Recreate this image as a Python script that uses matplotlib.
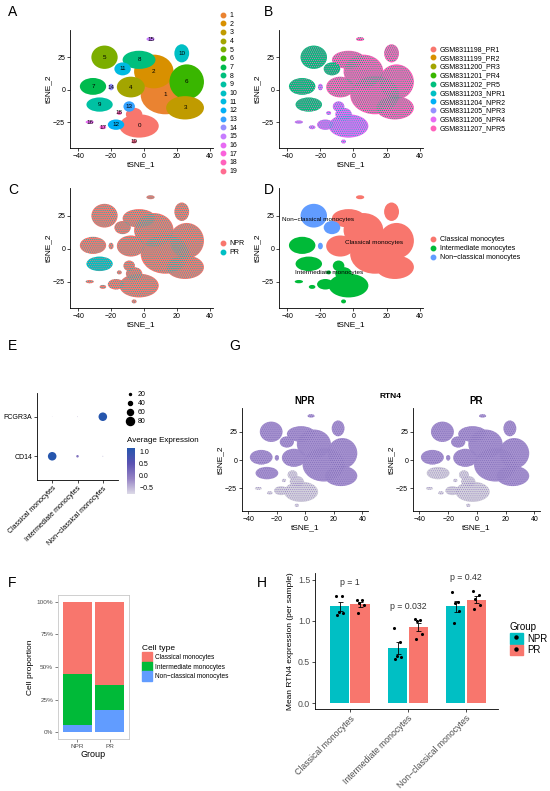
import numpy as np
import matplotlib.pyplot as plt
from matplotlib.patches import Ellipse, Patch
from matplotlib.lines import Line2D
from matplotlib.colors import LinearSegmentedColormap

plt.rcParams['font.family'] = ['Liberation Sans', 'DejaVu Sans']
plt.rcParams['hatch.linewidth'] = 0.45
plt.rcParams['axes.linewidth'] = 0.6

# ---------------- data ----------------
hue20 = ['#F8766D', '#EA8331', '#D89000', '#C09B00', '#A3A500', '#7CAE00', '#39B600', '#00BB4E', '#00BF7D', '#00C1A3',
         '#00BFC4', '#00BAE0', '#00B0F6', '#35A2FF', '#9590FF', '#C77CFF', '#E76BF3', '#FA62DB', '#FF62BC', '#FF6C91']

# cluster blobs on the tSNE map (one or two ellipses per cluster)
blob_cluster = [1, 2, 6, 3, 8, 4, 10, 15, 5, 11, 14, 7, 9, 0, 0, 13, 18, 12, 17, 16, 19]
blob_x = [13, 6, 26, 25, -3, -8, 23, 4, -24, -13, -20, -31, -27, -3, -6, -9, -15, -17, -25, -33, -6]
blob_y = [-4, 14, 6, -14, 23, 2, 28, 39, 25, 16, 2, 2.5, -11.5, -28, -19, -13, -18, -27, -29, -25, -40]
blob_w = [30, 24, 21, 23, 20, 17, 9, 5, 16, 10, 3, 16, 16, 24, 10, 7, 3, 10, 4, 5, 3]
blob_h = [30, 26, 27, 18, 14, 16, 14, 3, 18, 10, 5, 13, 11, 18, 10, 8, 3, 8, 3, 2.5, 3]

celltypes = ['Classical monocytes', 'Intermediate monocytes', 'Non-classical monocytes']
celltype_colors = ['#F8766D', '#00BA38', '#619CFF']
cluster_type = [1, 0, 0, 0, 0, 2, 0, 1, 0, 1, 0, 2, 1, 1, 2, 0, 1, 1, 1, 1]

samples = ['GSM8311198_PR1', 'GSM8311199_PR2', 'GSM8311200_PR3', 'GSM8311201_PR4', 'GSM8311202_PR5',
           'GSM8311203_NPR1', 'GSM8311204_NPR2', 'GSM8311205_NPR3', 'GSM8311206_NPR4', 'GSM8311207_NPR5']
sample_colors = ['#F8766D', '#D89000', '#A3A500', '#39B600', '#00BF7D',
                 '#00BFC4', '#00B0F6', '#9590FF', '#E76BF3', '#FF62BC']
cluster_sample_main = [8, 9, 9, 9, 9, 4, 9, 4, 9, 4, 9, 4, 8, 8, 8, 9, 8, 8, 8, 8]
cluster_sample_spot = [5, 4, 4, 4, 4, 9, 4, 9, 4, 9, 4, 9, 5, 5, 5, 4, 5, 5, 5, 5]

groups = ['NPR', 'PR']
group_colors = ['#F8766D', '#00BFC4']
cluster_group_main = [0, 0, 0, 0, 0, 0, 0, 0, 0, 1, 0, 0, 0, 0, 0, 0, 0, 0, 0, 0]
cluster_group_spot = [1, 1, 1, 1, 1, 1, 1, 1, 1, 0, 1, 1, 1, 1, 1, 1, 1, 1, 1, 1]

# RTN4 level per cluster (1 = expressed, 0 = low)
rtn4_npr = [0, 1, 1, 1, 1, 1, 1, 1, 1, 1, 1, 1, 0, 0, 1, 1, 0, 0, 0, 0]
rtn4_pr = [0, 1, 1, 1, 1, 1, 1, 1, 1, 0, 1, 1, 0, 0, 1, 1, 0, 0, 0, 0]

genes = ['CD14', 'FCGR3A']
pct_exp = [[85, 25, 10], [5, 8, 85]]
avg_exp = [[1.15, 0.1, -0.6], [-0.6, -0.55, 1.15]]

prop_npr = [0.55, 0.395, 0.055]
prop_pr = [0.635, 0.19, 0.175]

h_npr = [[1.31, 1.30, 1.11, 1.10, 1.07],
         [0.92, 0.74, 0.57, 0.56, 0.54],
         [1.35, 1.23, 1.22, 1.12, 0.97]]
h_pr = [[1.25, 1.25, 1.22, 1.19, 1.10],
        [1.02, 1.01, 1.00, 0.84, 0.78],
        [1.37, 1.32, 1.27, 1.19, 1.15]]
p_labels = ['p = 1', 'p = 0.032', 'p = 0.42']

# ---------------- figure ----------------
W, H = 550, 791
fig = plt.figure(figsize=(5.5, 7.91), dpi=100)


def box(l, t, r, b):
    return fig.add_axes([l / W, 1 - b / H, (r - l) / W, (b - t) / H])


def classic(ax, fs=5, col='black'):
    for s in ['top', 'right']:
        ax.spines[s].set_visible(False)
    ax.tick_params(length=2, width=0.5, pad=1.5, labelsize=fs, color='black', labelcolor=col)


def tsne(ax, main, spot=None, hatch='........'):
    for k, c in enumerate(blob_cluster):
        ax.add_patch(Ellipse((blob_x[k], blob_y[k]), blob_w[k], blob_h[k], facecolor=main[c],
                             edgecolor='none', lw=0))
    if spot is not None:
        for k, c in enumerate(blob_cluster):
            ax.add_patch(Ellipse((blob_x[k], blob_y[k]), blob_w[k] * 0.97, blob_h[k] * 0.97, facecolor='none',
                                 edgecolor=spot[c], lw=0, hatch=hatch))
    ax.set_xlim(-45, 42)
    ax.set_ylim(-45, 46)
    ax.set_xticks([-40, -20, 0, 20, 40])
    ax.set_yticks([-25, 0, 25])
    ax.set_xlabel('tSNE_1', fontsize=6, labelpad=1)
    ax.set_ylabel('tSNE_2', fontsize=6, labelpad=1)
    classic(ax)


def letter(x, y, s):
    fig.text(x / W, 1 - y / H, s, fontsize=10, ha='left', va='center')


def dot_legend(ax, labels, colors, x, y, spacing=0.15, ms=3.2):
    hs = [Line2D([], [], marker='o', ls='', color=c, ms=ms) for c in colors]
    ax.legend(hs, labels, loc='upper left', bbox_to_anchor=(x / W, 1 - y / H), bbox_transform=fig.transFigure,
              frameon=False, fontsize=5, handlelength=0.8, handletextpad=0.6, labelspacing=spacing,
              borderpad=0, borderaxespad=0)


# A: clusters
ax_a = box(70, 30, 213, 148)
tsne(ax_a, hue20)
for c in range(20):
    k = blob_cluster.index(c)
    ax_a.text(blob_x[k], blob_y[k], str(c), fontsize=4.5, ha='center', va='center')
dot_legend(ax_a, [str(i) for i in range(1, 20)], hue20[1:], 220, 12, spacing=0.24)
letter(8, 12, 'A')

# B: samples
ax_b = box(279, 30, 423, 148)
tsne(ax_b, [sample_colors[i] for i in cluster_sample_main], [sample_colors[i] for i in cluster_sample_spot])
dot_legend(ax_b, samples, sample_colors, 430, 46, spacing=0.26)
letter(264, 12, 'B')

# C: group
ax_c = box(70, 188, 213, 308)
tsne(ax_c, [group_colors[i] for i in cluster_group_main], [group_colors[i] for i in cluster_group_spot])
dot_legend(ax_c, groups, group_colors, 220, 240, spacing=0.32)
letter(8, 190, 'C')

# D: cell types
ax_d = box(279, 188, 423, 308)
tsne(ax_d, [celltype_colors[t] for t in cluster_type])
areas = np.array(blob_w) * np.array(blob_h)
btype = np.array([cluster_type[c] for c in blob_cluster])
for t, name in enumerate(celltypes):
    m = btype == t
    cx = np.sum(np.array(blob_x)[m] * areas[m]) / areas[m].sum()
    cy = np.sum(np.array(blob_y)[m] * areas[m]) / areas[m].sum()
    ax_d.text(cx, cy, name.replace('-', '\u2212'), fontsize=4.6, ha='center', va='center')
dot_legend(ax_d, [n.replace('-', '\u2212') for n in celltypes], celltype_colors, 430, 236, spacing=0.32)
letter(264, 190, 'D')

# E: dot plot
ax_e = box(37, 393, 118, 480)
cmap_e = LinearSegmentedColormap.from_list('e', ['#dddae7', '#9583c4', '#5a52b2', '#2656ad'])
for gi in range(len(genes)):
    ax_e.scatter(np.arange(1, 4), [gi + 1] * 3, s=(np.array(pct_exp[gi]) / 80 * 5.8) ** 2,
                 c=avg_exp[gi], cmap=cmap_e, vmin=-0.75, vmax=1.15, lw=0, zorder=3)
ax_e.set_xlim(0.4, 3.6)
ax_e.set_ylim(0.4, 2.6)
ax_e.set_yticks([1, 2], genes)
ax_e.set_xticks([1, 2, 3], [n.replace('-', '\u2212') for n in celltypes], rotation=45, ha='right',
                rotation_mode='anchor')
classic(ax_e, fs=5)
size_h = [Line2D([], [], marker='o', ls='', color='black', ms=v / 80 * 5.8) for v in [20, 40, 60, 80]]
ax_e.legend(size_h, ['20', '40', '60', '80'], loc='upper left', bbox_to_anchor=(127 / W, 1 - 391 / H),
            bbox_transform=fig.transFigure, frameon=False, fontsize=5, handlelength=1,
            handletextpad=0.5, labelspacing=0.3, borderpad=0, borderaxespad=0)
fig.text(127 / W, 1 - 441 / H, 'Average Expression', fontsize=5.8, va='center')
cax = box(127, 448, 135, 494)
sm = plt.cm.ScalarMappable(cmap=cmap_e, norm=plt.Normalize(-0.75, 1.15))
cb = fig.colorbar(sm, cax=cax, ticks=[1.0, 0.5, 0.0, -0.5])
cb.outline.set_visible(False)
cb.ax.set_yticklabels(['1.0', '0.5', '0.0', '\u22120.5'])
cb.ax.tick_params(labelsize=5, length=1.5, width=0.4, pad=1.5, color='white')
letter(8, 346, 'E')

# G: RTN4 feature plots
purple = ['#d4d2dc', '#a692cf']
spot_p = ['#9a87c6', '#8571bd']
for l, r, lev, ttl in [(242, 368, rtn4_npr, 'NPR'), (413, 540, rtn4_pr, 'PR')]:
    ax = box(l, 408, r, 511)
    tsne(ax, [purple[v] for v in lev], [spot_p[v] for v in lev])
    ax.set_xlim(-44.5, 44)
    ax.set_title(ttl, fontsize=7, fontweight='bold', pad=3)
fig.text(390 / W, 1 - 397 / H, 'RTN4', fontsize=6, fontweight='bold', ha='center', va='center')
letter(229, 346, 'G')

# F: proportions
ax_f = box(58, 595, 129, 739)
stack = np.array([prop_npr, prop_pr])
bottom = np.zeros(2)
for t in [2, 1, 0]:
    ax_f.bar([1, 2], stack[:, t], bottom=bottom, width=0.9, color=celltype_colors[t], lw=0)
    bottom += stack[:, t]
ax_f.set_xlim(0.4, 2.6)
ax_f.set_ylim(-0.05, 1.05)
ax_f.set_xticks([1, 2], groups)
ax_f.set_yticks([0, 0.25, 0.5, 0.75, 1.0], ['0%', '25%', '50%', '75%', '100%'])
ax_f.tick_params(length=2, width=0.5, pad=1.5, labelsize=4.6, labelcolor='#4d4d4d', color='#4d4d4d')
for s in ax_f.spines.values():
    s.set_color('#c8c8c8')
ax_f.set_xlabel('Group', fontsize=6.5, labelpad=1)
ax_f.set_ylabel('Cell proportion', fontsize=6, labelpad=2)
ax_f.legend([Patch(color=c) for c in celltype_colors], [n.replace('-', '\u2212') for n in celltypes],
            title='Cell type', title_fontsize=6, loc='upper left', bbox_to_anchor=(142 / W, 1 - 645 / H),
            bbox_transform=fig.transFigure, frameon=False, fontsize=4.7, handlelength=1.5, handleheight=1.9,
            handletextpad=0.5, labelspacing=0.0, borderpad=0, borderaxespad=0, alignment='left')
letter(8, 583, 'F')

# H: per-sample mean RTN4
ax_h = box(315, 573, 498, 709)
xc = np.arange(1, 4)
jit = np.array([-0.06, 0.04, -0.02, 0.06, -0.04])
for gi, (vals, col, off) in enumerate([(h_npr, '#00BFC4', -0.175), (h_pr, '#F8766D', 0.175)]):
    v = np.array(vals)
    mean = v.mean(axis=1)
    se = v.std(axis=1, ddof=1) / np.sqrt(v.shape[1])
    ax_h.bar(xc + off, mean, width=0.33, color=col, lw=0)
    ax_h.errorbar(xc + off, mean, yerr=se, fmt='none', ecolor='black', elinewidth=0.6, capsize=1.8, capthick=0.6)
    for i in range(3):
        ax_h.scatter(xc[i] + off + jit, v[i], s=5, color='black', lw=0, zorder=4)
allv = np.maximum(np.array(h_npr).max(axis=1), np.array(h_pr).max(axis=1))
for i in range(3):
    ax_h.text(xc[i], allv[i] + 0.1, p_labels[i], fontsize=6.3, ha='center', va='bottom', color='#333333')
ax_h.set_xlim(0.4, 3.55)
ax_h.set_ylim(-0.073, 1.585)
ax_h.set_yticks([0, 0.5, 1.0, 1.5], ['0.0', '0.5', '1.0', '1.5'])
ax_h.set_xticks(xc, [n.replace('-', '\u2212') for n in celltypes], rotation=45, ha='right', rotation_mode='anchor')
classic(ax_h, fs=6.3, col='#4d4d4d')
ax_h.set_ylabel('Mean RTN4 expression (per sample)', fontsize=6, labelpad=3)
gh = [(Patch(color=c), Line2D([], [], marker='o', ls='', color='black', ms=2.2)) for c in ['#00BFC4', '#F8766D']]
ax_h.legend(gh, groups, title='Group', title_fontsize=7, loc='upper left', bbox_to_anchor=(510 / W, 1 - 622 / H),
            bbox_transform=fig.transFigure, frameon=False, fontsize=7, handlelength=1.3, handleheight=1.3,
            handletextpad=0.5, labelspacing=0.1, borderpad=0, borderaxespad=0, alignment='left')
letter(257, 583, 'H')

fig.savefig('out.png', dpi=100)
